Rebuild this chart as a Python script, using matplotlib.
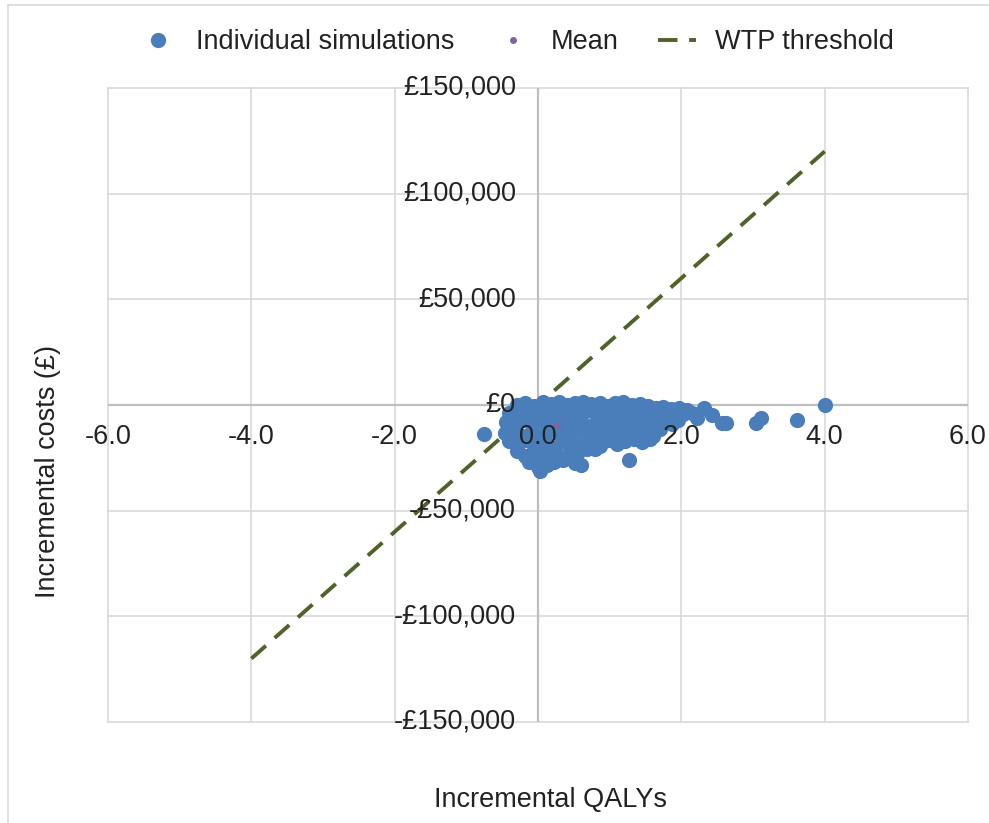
import matplotlib.pyplot as plt
from matplotlib.patches import Rectangle
from matplotlib.lines import Line2D

plt.rcParams['font.family'] = ['Liberation Sans', 'DejaVu Sans']

# Probabilistic sensitivity analysis: incremental QALYs and costs (GBP)
qalys = [
    -0.30, -0.18, -0.05, 0.07, 0.18, 0.29, 0.41, 0.52, 0.63, 0.74, 0.86, 0.97,
    1.08, 1.19, 1.31, 1.42, 1.53, 1.64, 1.75, 1.86, 1.97, 2.08,
    -0.40, -0.27, -0.13, 0.00, 0.12, 0.24, 0.36, 0.48, 0.60, 0.71, 0.83, 0.95,
    1.06, 1.18, 1.29, 1.41, 1.52, 1.63, 1.77, 1.90, 2.03, 2.15, 2.22,
    -0.45, -0.33, -0.20, -0.07, 0.06, 0.18, 0.31, 0.43, 0.55, 0.67, 0.79, 0.91,
    1.03, 1.15, 1.27, 1.39, 1.51, 1.62, 1.74, 1.87, 1.96,
    -0.46, -0.34, -0.21, -0.08, 0.04, 0.16, 0.29, 0.41, 0.53, 0.66, 0.78, 0.90,
    1.02, 1.14, 1.26, 1.38, 1.50, 1.60, 1.70,
    -0.40, -0.28, -0.15, -0.02, 0.11, 0.24, 0.37, 0.49, 0.62, 0.74, 0.86, 0.98,
    1.10, 1.22, 1.34, 1.45, 1.56,
    -0.30, -0.18, -0.06, 0.06, 0.19, 0.31, 0.44, 0.55, 0.68, 0.80,
    -0.12, 0.00, 0.03, 0.12, 0.22, 0.35, 0.51, 0.60, 1.27,
    -0.76, 2.32, 2.43, 2.57, 2.62, 3.04, 3.11, 3.61, 4.00,
]
costs = [
    200, 900, -300, 1200, 400, 1500, -200, 900, 1400, 300, 1100, -400,
    800, 1300, 200, 600, -700, -1500, -900, -2000, -1200, -2600,
    -3800, -2900, -4600, -3300, -5100, -2700, -4200, -3500, -5300, -2500, -4400, -3100,
    -5000, -2800, -4700, -3600, -5200, -4100, -3400, -5000, -4300, -3700, -6000,
    -8200, -9600, -7300, -9900, -8100, -7000, -10300, -8500, -7200, -9800, -8300, -7100,
    -10100, -8700, -7400, -9500, -8000, -10600, -7600, -8900, -7000,
    -13200, -11700, -14500, -12300, -15000, -11800, -13700, -15400, -12100, -14200, -11600, -13900,
    -15300, -12200, -14000, -11900, -13500, -14600, -11500,
    -17000, -18800, -16400, -19500, -17300, -20200, -16900, -18600, -20000, -17500, -19200, -16700,
    -18300, -17100, -16300, -17400, -15900,
    -22000, -24300, -21500, -23700, -22400, -25000, -21800, -23300, -21000, -20700,
    -27200, -29500, -31000, -28300, -27000, -26200, -27500, -28600, -26200,
    -13600, -1400, -4700, -8500, -8500, -8500, -6100, -7100, 0,
]

mean_qaly = 0.27
mean_cost = -9500

# willingness-to-pay line, GBP per QALY
wtp = 30000
wtp_qalys = [-4.0, 4.0]

x_ticks = [-6.0, -4.0, -2.0, 0.0, 2.0, 4.0, 6.0]
y_ticks = [150000, 100000, 50000, 0, -50000, -100000, -150000]

FS = 19.5
TXT = '#222222'


def money(v):
    return ('-£{:,}' if v < 0 else '£{:,}').format(abs(v))


fig = plt.figure(figsize=(9.89, 8.23), dpi=100)
fig.patches.append(Rectangle((8 / 989, -0.01), 1.0, 1 - 5 / 823 + 0.01,
                             transform=fig.transFigure, fill=False,
                             edgecolor='#d9d9d9', linewidth=1.2))

ax = fig.add_axes([108 / 989, 1 - 722 / 823, 860 / 989, 634 / 823])
ax.set_xlim(-6, 6)
ax.set_ylim(-150000, 150000)
for s in ax.spines.values():
    s.set_visible(False)
ax.set_xticks([])
ax.set_yticks([])

# gridlines and the outer frame
for x in x_ticks:
    if x != 0:
        ax.axvline(x, color='#d9d9d9', lw=1.2, zorder=0, clip_on=False)
for y in y_ticks:
    if y != 0:
        ax.axhline(y, color='#d9d9d9', lw=1.2, zorder=0, clip_on=False)
ax.axvline(0, color='#bfbfbf', lw=1.6, zorder=0.5)
ax.axhline(0, color='#bfbfbf', lw=1.6, zorder=0.5)

ax.plot(wtp_qalys, [wtp * q for q in wtp_qalys], color='#4f6228',
        lw=2.8, linestyle=(0, (5, 3)), zorder=1)
ax.scatter(qalys, costs, s=120, color='#4a7ebb', linewidths=0, zorder=2)
ax.scatter([mean_qaly], [mean_cost], s=22, color='#8064a2', linewidths=0, zorder=3)

# tick labels sit on the zero axes, over the points
for x in x_ticks:
    ax.annotate('{:.1f}'.format(x), (x, 0), xytext=(0, -14), textcoords='offset points',
                ha='center', va='top', fontsize=FS, color=TXT, zorder=5,
                annotation_clip=False)
for y in y_ticks:
    ax.annotate(money(y), (0, y), xytext=(-16, 0), textcoords='offset points',
                ha='right', va='center', fontsize=FS, color=TXT, zorder=5,
                annotation_clip=False)

fig.text(550 / 989, 1 - 800 / 823, 'Incremental QALYs', ha='center', va='center',
         fontsize=FS, color=TXT)
fig.text(48 / 989, 1 - 471 / 823, 'Incremental costs (£)', ha='center', va='center',
         rotation=90, fontsize=FS, color=TXT)

handles = [
    Line2D([], [], marker='o', linestyle='none', markersize=11,
           markerfacecolor='#4a7ebb', markeredgewidth=0),
    Line2D([], [], marker='o', linestyle='none', markersize=5,
           markerfacecolor='#8064a2', markeredgewidth=0),
    Line2D([], [], color='#4f6228', lw=2.8, linestyle=(0, (5, 3))),
]
fig.legend(handles, ['Individual simulations', 'Mean', 'WTP threshold'],
           loc='center', bbox_to_anchor=(0.522, 1 - 42 / 823), ncol=3, frameon=False,
           fontsize=FS, handlelength=1.4, columnspacing=1.45, handletextpad=0.7,
           labelcolor=TXT)

fig.savefig('out.png', dpi=100)
